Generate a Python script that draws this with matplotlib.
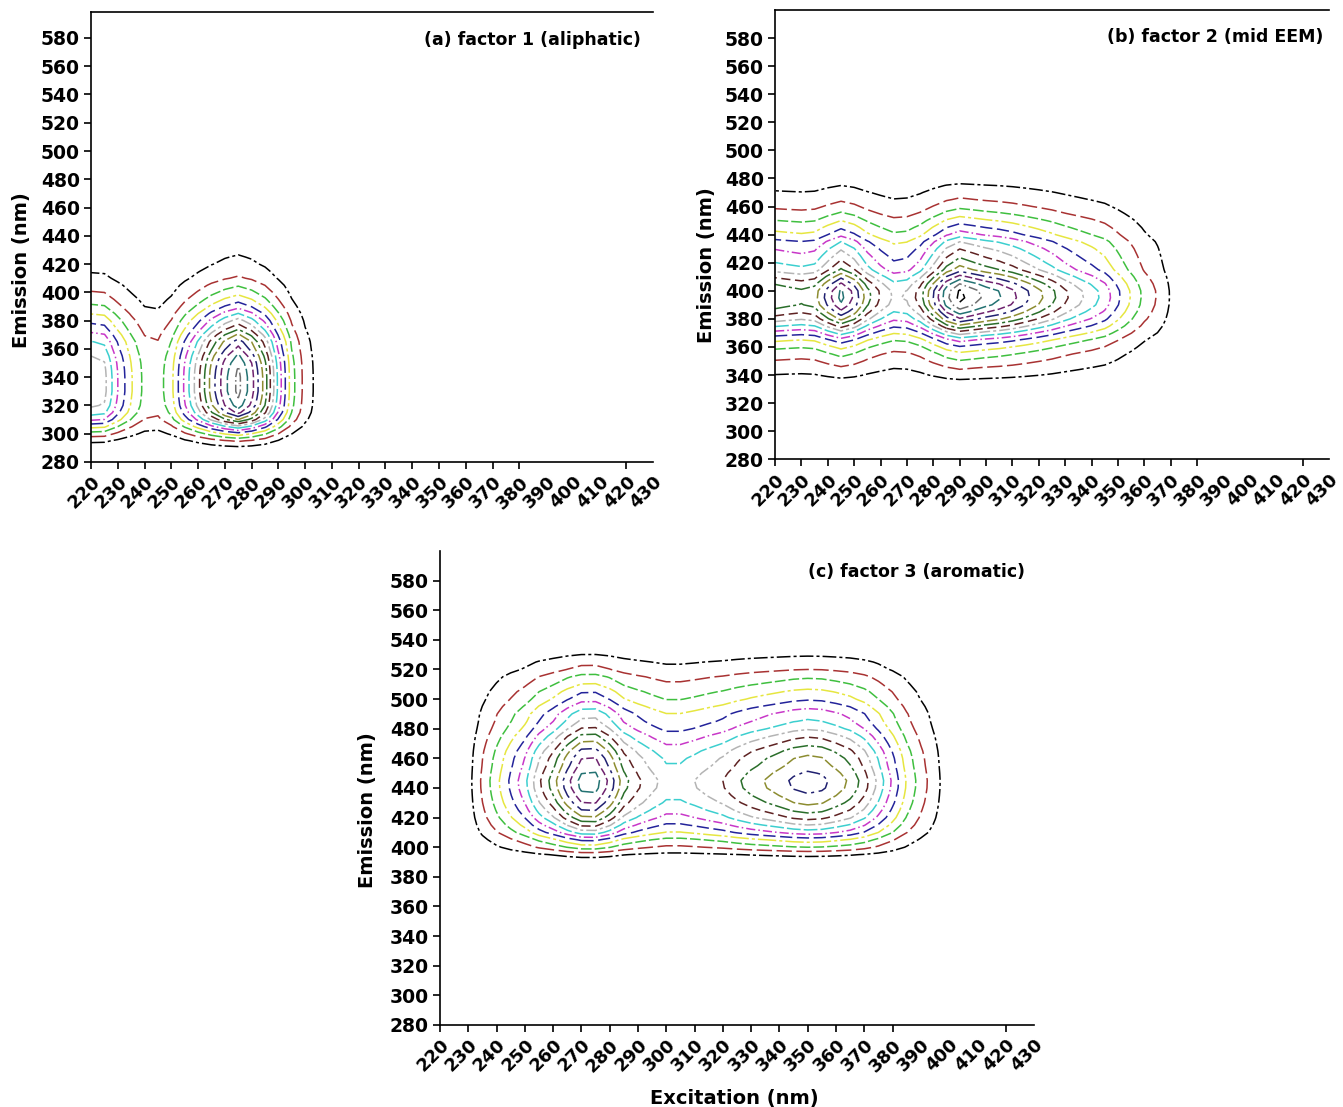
import numpy as np
import matplotlib
matplotlib.use('Agg')
import matplotlib.pyplot as plt

plt.rcParams['font.family'] = ['DejaVu Sans']
plt.rcParams['font.weight'] = 'bold'

# ---- 資料：各因子的激發 / 發射載荷 ----
# factor 1 (aliphatic)
ex_a = [220, 225, 230, 235, 240, 245, 250, 255, 260, 265, 270, 275, 280, 285,
        290, 295, 300, 305, 310]
load_ex_a = [8.6, 8.3, 6.0, 4.1, 2.7, 2.5, 3.7, 6.2, 8.7, 11.4, 13.7, 15.3, 13.4,
             10.5, 6.7, 3.4, 1.6, 0.6, 0.0]
em_a = [285, 290, 295, 300, 305, 310, 315, 320, 325, 330, 335, 340, 345, 350,
        355, 360, 365, 370, 375, 380, 385, 390, 395, 400, 405, 410, 415, 420,
        425, 430, 435, 440]
load_em_a = [0.0, 0.05, 0.14, 0.30, 0.50, 0.72, 0.87, 0.95, 0.98, 1.0, 1.0, 1.0,
             0.99, 0.97, 0.93, 0.87, 0.82, 0.73, 0.63, 0.55, 0.46, 0.37, 0.30,
             0.24, 0.19, 0.14, 0.11, 0.085, 0.07, 0.055, 0.03, 0.0]

# factor 2 (mid EEM)
ex_b = [220, 225, 230, 235, 240, 245, 250, 255, 260, 265, 270, 275, 280, 285,
        290, 295, 300, 305, 310, 315, 320, 325, 330, 335, 340, 345, 350, 355,
        360, 365, 370, 375, 380]
load_ex_b = [10.8, 10.5, 10.25, 10.6, 12.5, 14.3, 12.8, 10.4, 8.9, 7.85, 8.1, 9.5,
             12.0, 14.7, 16.3, 15.5, 14.7, 14.1, 13.3, 12.3, 11.3, 10.3, 9.2, 8.3,
             7.5, 6.6, 5.2, 3.9, 2.7, 1.9, 0.9, 0.2, 0.0]
em_b = [330, 335, 340, 345, 350, 355, 360, 365, 370, 375, 380, 385, 390, 395,
        400, 405, 410, 415, 420, 425, 430, 435, 440, 445, 450, 455, 460, 465,
        470, 475, 480, 485]
load_em_b = [0.0, 0.045, 0.09, 0.13, 0.18, 0.23, 0.30, 0.39, 0.52, 0.66, 0.79,
             0.89, 0.97, 1.0, 0.99, 0.92, 0.82, 0.71, 0.65, 0.60, 0.55, 0.49,
             0.40, 0.34, 0.28, 0.22, 0.17, 0.13, 0.10, 0.07, 0.035, 0.0]

# factor 3 (aromatic)
ex_c = [220, 225, 230, 235, 240, 245, 250, 255, 260, 265, 270, 275, 280, 285,
        290, 295, 300, 305, 310, 315, 320, 325, 330, 335, 340, 345, 350, 355,
        360, 365, 370, 375, 380, 385, 390, 395, 400, 405, 410]
load_ex_c = [0.0, 0.0, 0.6, 2.2, 3.7, 5.2, 6.7, 8.8, 10.5, 12.6, 14.4, 14.5, 12.7,
             10.4, 9.2, 8.3, 7.6, 7.6, 8.0, 8.5, 9.0, 9.8, 10.5, 11.05, 11.6,
             12.2, 12.5, 12.3, 11.6, 10.8, 9.5, 7.7, 5.8, 3.9, 2.5, 1.4, 0.3,
             0.0, 0.0]
em_c = [385, 390, 395, 400, 405, 410, 415, 420, 425, 430, 435, 440, 445, 450,
        455, 460, 465, 470, 475, 480, 485, 490, 495, 500, 505, 510, 515, 520,
        525, 530, 535, 540]
load_em_c = [0.0, 0.02, 0.10, 0.24, 0.36, 0.52, 0.64, 0.75, 0.83, 0.90, 0.95,
             0.99, 1.0, 0.97, 0.93, 0.90, 0.85, 0.78, 0.71, 0.63, 0.57, 0.53,
             0.46, 0.39, 0.34, 0.28, 0.23, 0.16, 0.12, 0.07, 0.02, 0.0]

titles = ['(a) factor 1 (aliphatic)', '(b) factor 2 (mid EEM)', '(c) factor 3 (aromatic)']
n_levels = [15, 16, 14]

x_ticks = list(range(220, 431, 10))
y_ticks = list(range(280, 581, 20))

# SigmaPlot 風格的等高線顏色 / 線型
line_colors = ['#000000', '#a83232', '#3fbf3f', '#e6e640', '#23239a', '#c837c8',
               '#3ccfcf', '#b4b4b4', '#5e2222', '#2a6e2a', '#8c8c30', '#202070',
               '#6e226e', '#237272', '#707070', '#000000']
line_styles = [(0, (9, 2, 2, 2)), (0, (10, 3)), (0, (7, 2)), (0, (12, 2, 2, 2)),
               (0, (8, 3)), (0, (6, 2, 1, 2)), (0, (9, 2)), (0, (7, 2, 2, 2)),
               (0, (6, 3)), (0, (10, 2, 2, 2)), (0, (7, 2)), (0, (9, 3, 2, 3)),
               (0, (5, 2)), (0, (8, 2)), (0, (6, 2, 1, 2)), (0, (7, 3))]

fig = plt.figure(figsize=(13.43, 11.07), dpi=100)

# 各子圖位置 (由像素換算)
positions = [[0.0678, 0.5827, 0.4185, 0.4065],
             [0.5771, 0.5851, 0.4125, 0.4059],
             [0.3276, 0.0741, 0.4423, 0.4282]]
ylims = [598.4, 600, 600]
title_pos = [(0.979, 0.938), (0.990, 0.940), (0.985, 0.956)]
ylabel_pos = [(-0.106, 0.427), (-0.107, 0.432), (-0.106, 0.454)]
show_top = [True, True, False]

data = [(ex_a, load_ex_a, em_a, load_em_a),
        (ex_b, load_ex_b, em_b, load_em_b),
        (ex_c, load_ex_c, em_c, load_em_c)]

for i in range(3):
    ax = fig.add_axes(positions[i])
    ex, lx, em, ly = data[i]
    Z = np.outer(np.array(ly), np.array(lx))
    for k in range(n_levels[i]):
        cs = ax.contour(ex, em, Z, levels=[k + 1], colors=[line_colors[k]],
                        linewidths=1.1)
        cs.set_linestyle([line_styles[k]])

    ax.set_xlim(220, 430)
    ax.set_ylim(280, ylims[i])
    ax.set_xticks(x_ticks)
    ax.set_xticklabels([str(t) for t in x_ticks], rotation=45, ha='right',
                       va='top', rotation_mode='anchor', fontsize=13,
                       fontweight='bold')
    ax.set_yticks(y_ticks)
    ax.set_yticklabels([str(t) for t in y_ticks], fontsize=13.5, fontweight='bold')
    ax.tick_params(direction='out', length=5, width=1.2, pad=3)
    # 390-410 與 430 沒有刻度線
    for t, tick in zip(x_ticks, ax.xaxis.get_major_ticks()):
        if t in (390, 400, 410, 430):
            tick.tick1line.set_visible(False)
    ax.spines['right'].set_visible(False)
    ax.spines['top'].set_visible(show_top[i])
    for s in ['left', 'bottom', 'top']:
        ax.spines[s].set_linewidth(1.2)

    ax.set_ylabel('Emission (nm)', fontsize=14, fontweight='bold')
    ax.yaxis.set_label_coords(*ylabel_pos[i])
    ax.text(title_pos[i][0], title_pos[i][1], titles[i], transform=ax.transAxes,
            ha='right', va='center', fontsize=12.5, fontweight='bold')

fig.text(0.5466, 0.0081, 'Excitation (nm)', ha='center', va='center',
         fontsize=14, fontweight='bold')

fig.savefig('out.png', dpi=100)
